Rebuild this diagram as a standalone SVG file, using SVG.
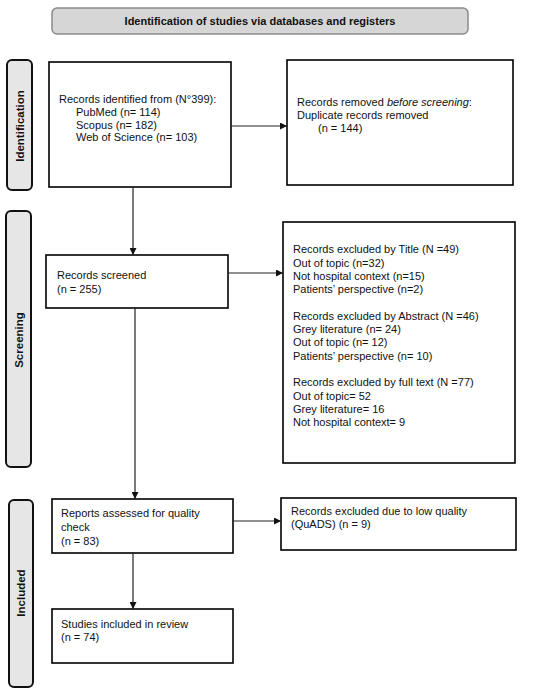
<svg xmlns="http://www.w3.org/2000/svg" width="550" height="691" viewBox="0 0 550 691">
<defs>
<style>
.box{fill:#fff;stroke:#000;stroke-width:1.6}
.side{fill:#e6e6e6;stroke:#111;stroke-width:2}
.banner{fill:#d6d6d6;stroke:#8a8a8a;stroke-width:1.5}
text{font-family:"Liberation Sans",Arial,sans-serif;font-size:11px;fill:#111}
.b{font-weight:bold}
.sl{font-weight:bold;font-size:11.5px}
.conn{stroke:#222;stroke-width:1.2;fill:none}
</style>
<marker id="ah" viewBox="0 0 10 10" refX="10" refY="5" markerWidth="7" markerHeight="7" markerUnits="userSpaceOnUse" orient="auto">
<path d="M0,0 L10,5 L0,10 z" fill="#111"/>
</marker>
</defs>
<rect width="550" height="691" fill="#fff"/>
<g id="banner">
<rect class="banner" x="52" y="8" width="416" height="26" rx="5"/>
<text class="b" x="260" y="25" text-anchor="middle">Identification of studies via databases and registers</text>
</g>
<g id="label-identification">
<rect class="side" x="7" y="60" width="25" height="130" rx="5"/>
<text class="sl" transform="translate(23.5,126) rotate(-90)" text-anchor="middle">Identification</text>
</g>
<g id="label-screening">
<rect class="side" x="6" y="211" width="25" height="256" rx="5"/>
<text class="sl" transform="translate(22.5,340) rotate(-90)" text-anchor="middle">Screening</text>
</g>
<g id="label-included">
<rect class="side" x="9" y="500" width="24" height="187" rx="5"/>
<text class="sl" transform="translate(25,593) rotate(-90)" text-anchor="middle">Included</text>
</g>
<g id="records-identified">
<rect class="box" x="49" y="62" width="182" height="125"/>
<text x="59" y="103">Records identified from (N°399):</text>
<text x="76" y="115.5">PubMed (n= 114)</text>
<text x="76" y="128.5">Scopus (n= 182)</text>
<text x="76" y="141">Web of Science (n= 103)</text>
</g>
<g id="records-removed">
<rect class="box" x="287" y="60" width="226" height="125"/>
<text x="297" y="106">Records removed <tspan font-style="italic">before screening</tspan>:</text>
<text x="297" y="119">Duplicate records removed</text>
<text x="318" y="132">(n = 144)</text>
</g>
<g id="records-screened">
<rect class="box" x="46" y="255" width="182" height="53"/>
<text x="57" y="279">Records screened</text>
<text x="57" y="293">(n = 255)</text>
</g>
<g id="records-excluded">
<rect class="box" x="283" y="222" width="232" height="241"/>
<text x="293" y="253">Records excluded by Title (N =49)</text>
<text x="293" y="266.5">Out of topic (n=32)</text>
<text x="293" y="280">Not hospital context (n=15)</text>
<text x="293" y="293">Patients’ perspective (n=2)</text>
<text x="293" y="320">Records excluded by Abstract (N =46)</text>
<text x="293" y="333">Grey literature (n= 24)</text>
<text x="293" y="346">Out of topic (n= 12)</text>
<text x="293" y="359.5">Patients’ perspective (n= 10)</text>
<text x="293" y="386">Records excluded by full text (N =77)</text>
<text x="293" y="399.5">Out of topic= 52</text>
<text x="293" y="413">Grey literature= 16</text>
<text x="293" y="426">Not hospital context= 9</text>
</g>
<g id="reports-assessed">
<rect class="box" x="52" y="499" width="181" height="54"/>
<text x="61" y="517">Reports assessed for quality</text>
<text x="61" y="531">check</text>
<text x="61" y="545">(n = 83)</text>
</g>
<g id="records-excluded-quality">
<rect class="box" x="281" y="498" width="235" height="52"/>
<text x="291" y="515">Records excluded due to low quality</text>
<text x="291" y="527.5">(QuADS) (n = 9)</text>
</g>
<g id="studies-included">
<rect class="box" x="52" y="609" width="181" height="54"/>
<text x="61" y="628">Studies included in review</text>
<text x="61" y="641">(n = 74)</text>
</g>
<g id="connectors">
<line class="conn" x1="231" y1="126" x2="287" y2="126" marker-end="url(#ah)"/>
<line class="conn" x1="133" y1="187" x2="133" y2="255" marker-end="url(#ah)"/>
<line class="conn" x1="228" y1="273" x2="283" y2="273" marker-end="url(#ah)"/>
<line class="conn" x1="135" y1="308" x2="135" y2="499" marker-end="url(#ah)"/>
<line class="conn" x1="233" y1="521" x2="281" y2="521" marker-end="url(#ah)"/>
<line class="conn" x1="133" y1="553" x2="133" y2="609" marker-end="url(#ah)"/>
</g>
</svg>
